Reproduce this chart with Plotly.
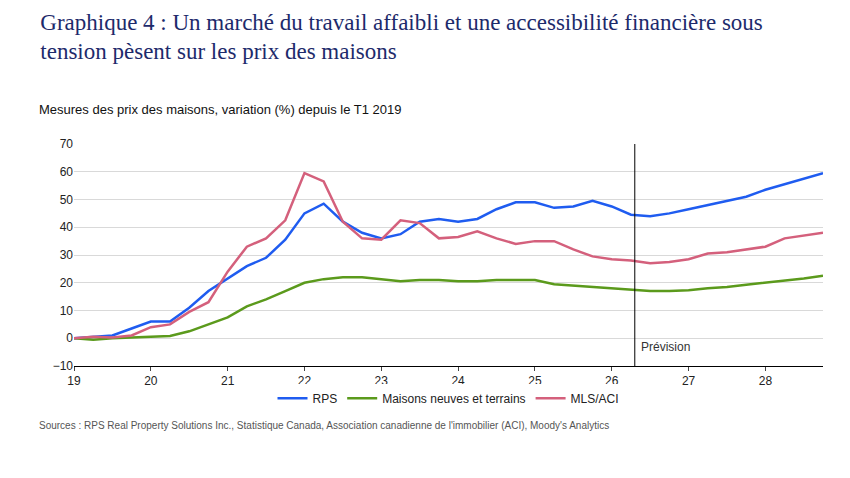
import plotly.graph_objects as go

quarters = [19 + i * 0.25 for i in range(40)]
rps = [0, 0.5, 1, 3.5, 6, 6, 11, 17, 21.5, 26, 29, 35.5, 45, 48.5, 42, 38, 36, 37.5, 42, 43,
       42, 43, 46.5, 49, 49, 47, 47.5, 49.5, 47.5, 44.5, 44, 45, 46.5, 48, 49.5, 51, 53.5, 55.5, 57.5, 59.5]
neuves = [0, -0.5, 0, 0.3, 0.5, 0.8, 2.5, 5, 7.5, 11.5, 14, 17, 20, 21.3, 22, 22, 21.3, 20.5, 21, 21,
          20.5, 20.5, 21, 21, 21, 19.5, 19, 18.5, 18, 17.3, 17, 17, 17.3, 18, 18.5, 19.3, 20, 20.8, 21.5, 22.5]
mls = [0, 0.5, 0.3, 1, 4, 5, 9.5, 13, 24, 33, 36, 42.5, 59.5, 56.5, 42, 36, 35.5, 42.5, 41.5, 36,
       36.5, 38.5, 36, 34, 35, 35, 32, 29.5, 28.5, 28, 27, 27.5, 28.5, 30.5, 31, 32, 33, 36, 37, 38]
forecast_start = 26.3

fig = go.Figure()
for name, y, color in [("RPS", rps, "#1f5cf0"),
                       ("Maisons neuves et terrains", neuves, "#5b9a1c"),
                       ("MLS/ACI", mls, "#d4607c")]:
    fig.add_trace(go.Scatter(x=quarters, y=y, name=name, mode="lines",
                             line=dict(color=color, width=2.5)))

fig.add_vline(x=forecast_start, line=dict(color="black", width=1))
fig.add_annotation(x=forecast_start, y=-3, text="Prévision", showarrow=False,
                   xanchor="left", xshift=4, font=dict(size=12, color="#333"))

fig.update_layout(
    width=850, height=478, plot_bgcolor="white", paper_bgcolor="white",
    font=dict(family="Liberation Sans, Arial", size=12, color="#222"),
    margin=dict(l=66, r=35, t=136, b=120),
    title=dict(text="Graphique 4 : Un marché du travail affaibli et une accessibilité financière sous<br>tension pèsent sur les prix des maisons",
               x=0.038, y=0.955, xanchor="left", yanchor="top",
               font=dict(family="Liberation Serif, Times New Roman", size=23, color="#1d2a6b")),
    legend=dict(orientation="h", x=0.5, xanchor="center", y=-0.08, yanchor="top",
                font=dict(size=12)),
    xaxis=dict(range=[19, 28.75], tickvals=list(range(19, 29)),
               ticktext=[str(v) for v in range(19, 29)], showgrid=False,
               showline=True, linecolor="black", ticks="outside", ticklen=4),
    yaxis=dict(range=[-10, 70], dtick=10, showgrid=True, gridcolor="#d9d9d9",
               zeroline=False, ticks=""),
)
fig.add_annotation(xref="paper", yref="paper", x=-0.05, y=1.2, xanchor="left",
                   text="Mesures des prix des maisons, variation (%) depuis le T1 2019",
                   showarrow=False, font=dict(size=13, color="#111"))
fig.add_annotation(xref="paper", yref="paper", x=-0.05, y=-0.3, xanchor="left",
                   text="Sources : RPS Real Property Solutions Inc., Statistique Canada, Association canadienne de l'immobilier (ACI), Moody's Analytics",
                   showarrow=False, font=dict(size=10, color="#555"))
fig.write_html("out.html")
